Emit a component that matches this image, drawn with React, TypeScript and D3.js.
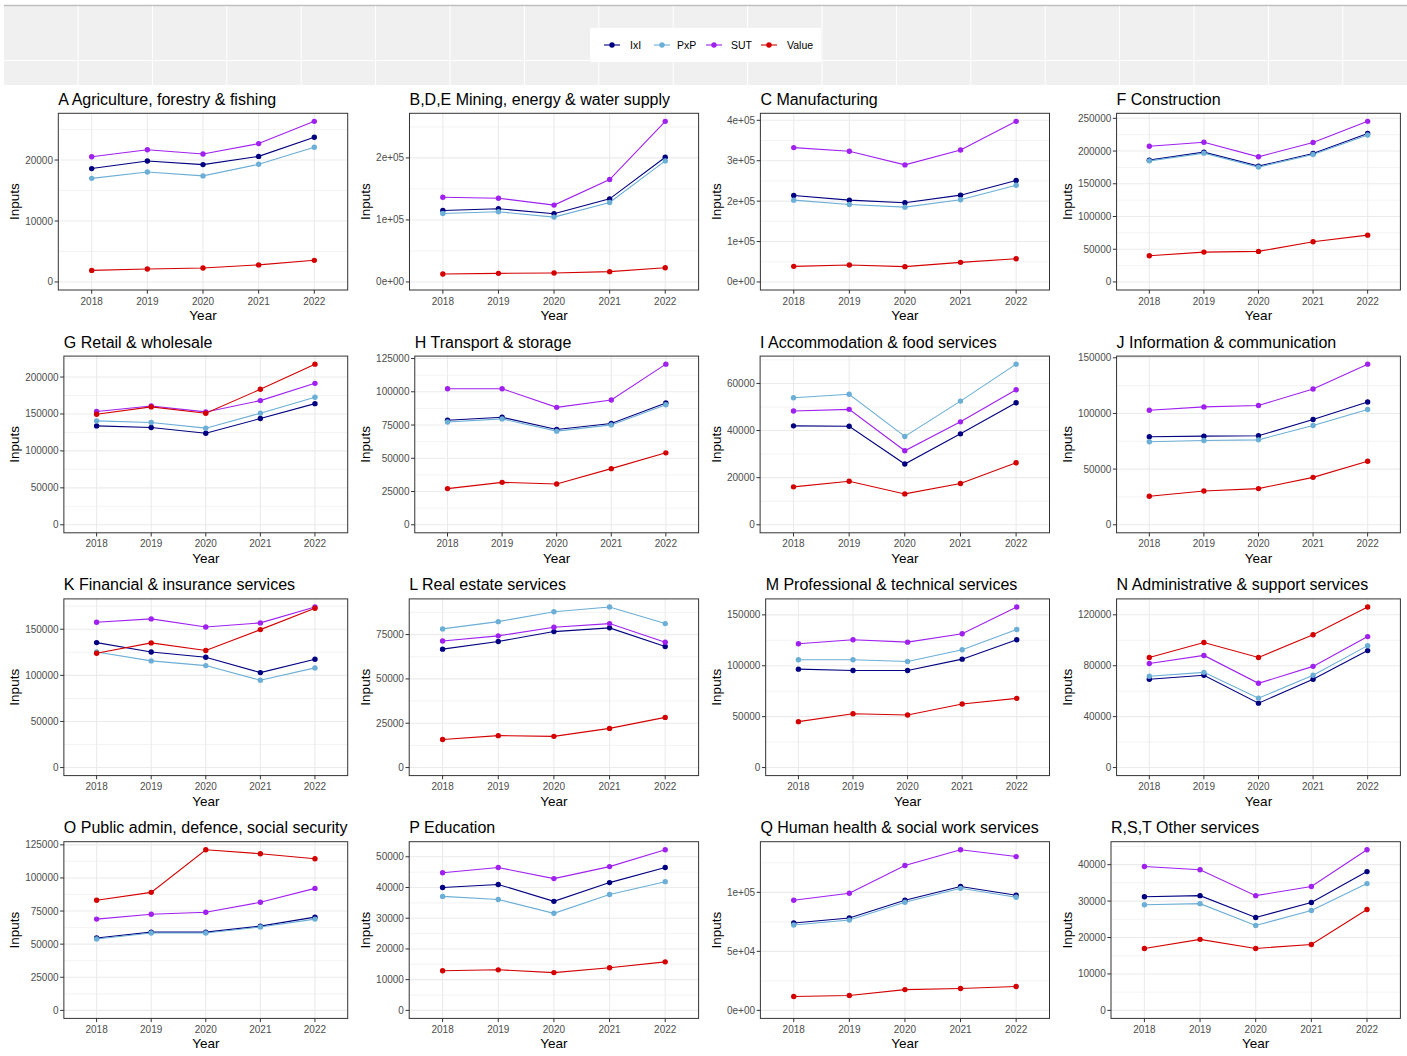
import * as d3 from 'd3';

// input-output comparison by sector, 2018-2022
const years = ['2018', '2019', '2020', '2021', '2022'];
const seriesNames = ['IxI', 'PxP', 'SUT', 'Value'];
const seriesColors = ['#000080', '#6BAED6', '#A020F0', '#D40000'];

const sectorTitles = [
  'A Agriculture, forestry & fishing',
  'B,D,E Mining, energy & water supply',
  'C Manufacturing',
  'F Construction',
  'G Retail & wholesale',
  'H Transport & storage',
  'I Accommodation & food services',
  'J Information & communication',
  'K Financial & insurance services',
  'L Real estate services',
  'M Professional & technical services',
  'N Administrative & support services',
  'O Public admin, defence, social security',
  'P Education',
  'Q Human health & social work services',
  'R,S,T Other services',
];

const ixi = [
  [18600, 19850, 19250, 20600, 23750],
  [115300, 118000, 110000, 134000, 201000],
  [214000, 202500, 195900, 214800, 251000],
  [186100, 198300, 177000, 196200, 226700],
  [133900, 131700, 124000, 143800, 164000],
  [78600, 80800, 71600, 76100, 91600],
  [42000, 41800, 25800, 38600, 51800],
  [79000, 79600, 79900, 94500, 110300],
  [135500, 125400, 119600, 103000, 117500],
  [66800, 71100, 76700, 78800, 68300],
  [96700, 95400, 95400, 106500, 125500],
  [69400, 72500, 50600, 69400, 91900],
  [54600, 59100, 59100, 63600, 70400],
  [40000, 41000, 35500, 41600, 46500],
  [74000, 78200, 93300, 105000, 97500],
  [31200, 31500, 25500, 29600, 38100],
];

const pxp = [
  [17000, 18050, 17400, 19300, 22100],
  [110500, 113100, 104600, 128200, 195200],
  [202500, 191800, 185200, 203300, 239500],
  [185000, 196800, 175500, 194700, 224600],
  [140700, 138400, 130800, 151000, 172600],
  [77300, 79600, 70400, 75100, 90300],
  [53900, 55400, 37500, 52500, 68200],
  [74600, 75700, 76300, 89200, 103500],
  [125400, 115700, 110600, 94700, 108100],
  [78200, 82300, 87900, 90600, 81200],
  [105900, 105900, 104200, 115700, 135600],
  [71700, 74800, 54500, 72500, 95800],
  [53900, 58400, 58400, 62900, 68900],
  [37100, 36100, 31600, 37700, 41900],
  [72300, 76500, 91600, 103400, 95800],
  [29000, 29300, 23300, 27400, 34800],
];

const sut = [
  [20550, 21700, 21000, 22700, 26350],
  [136700, 135100, 123900, 165100, 259000],
  [332500, 323500, 289700, 326700, 397500],
  [207400, 213500, 191200, 213000, 245400],
  [153300, 160900, 152800, 168100, 191500],
  [102300, 102300, 88300, 93800, 120800],
  [48300, 49000, 31400, 43700, 57300],
  [102900, 105900, 107100, 122000, 144300],
  [157600, 161200, 152500, 156900, 174200],
  [71400, 74300, 79100, 81200, 70700],
  [121600, 125500, 123200, 131400, 157800],
  [81800, 88100, 66200, 79500, 102900],
  [68900, 72600, 74100, 81600, 92100],
  [44800, 46500, 42900, 46800, 52300],
  [93300, 99200, 122700, 136100, 130300],
  [39500, 38600, 31500, 34000, 44100],
];

const value = [
  [1900, 2130, 2300, 2800, 3550],
  [12900, 13900, 14500, 16600, 23000],
  [38700, 42000, 37900, 48600, 57600],
  [40100, 45600, 46700, 61400, 71500],
  [149700, 159600, 151000, 183400, 217500],
  [27200, 31900, 30700, 42200, 54100],
  [16100, 18500, 13100, 17500, 26300],
  [25600, 30400, 32500, 42600, 57000],
  [124000, 135200, 126900, 149600, 172800],
  [15800, 18000, 17600, 22100, 28300],
  [45100, 52900, 51600, 62400, 68000],
  [86500, 98200, 86500, 104400, 126200],
  [83100, 89100, 121300, 118300, 114500],
  [12900, 13200, 12300, 13900, 15800],
  [11800, 12600, 17600, 18500, 20200],
  [17000, 19500, 17000, 18100, 27700],
];

const yBreaks = [
  [0, 10000, 20000],
  [0, 100000, 200000],
  [0, 100000, 200000, 300000, 400000],
  [0, 50000, 100000, 150000, 200000, 250000],
  [0, 50000, 100000, 150000, 200000],
  [0, 25000, 50000, 75000, 100000, 125000],
  [0, 20000, 40000, 60000],
  [0, 50000, 100000, 150000],
  [0, 50000, 100000, 150000],
  [0, 25000, 50000, 75000],
  [0, 50000, 100000, 150000],
  [0, 40000, 80000, 120000],
  [0, 25000, 50000, 75000, 100000, 125000],
  [0, 10000, 20000, 30000, 40000, 50000],
  [0, 50000, 100000],
  [0, 10000, 20000, 30000, 40000],
];

const yLabels = [
  ['0', '10000', '20000'],
  ['0e+00', '1e+05', '2e+05'],
  ['0e+00', '1e+05', '2e+05', '3e+05', '4e+05'],
  ['0', '50000', '100000', '150000', '200000', '250000'],
  ['0', '50000', '100000', '150000', '200000'],
  ['0', '25000', '50000', '75000', '100000', '125000'],
  ['0', '20000', '40000', '60000'],
  ['0', '50000', '100000', '150000'],
  ['0', '50000', '100000', '150000'],
  ['0', '25000', '50000', '75000'],
  ['0', '50000', '100000', '150000'],
  ['0', '40000', '80000', '120000'],
  ['0', '25000', '50000', '75000', '100000', '125000'],
  ['0', '10000', '20000', '30000', '40000', '50000'],
  ['0e+00', '5e+04', '1e+05'],
  ['0', '10000', '20000', '30000', '40000'],
];

const allSeries = [ixi, pxp, sut, value];

const WIDTH = 1407;
const HEIGHT = 1056;
const FONT = '"Liberation Sans", Arial, Helvetica, sans-serif';
const TICK_SIZE = 10;

let measureCtx: CanvasRenderingContext2D | null = null;
function textWidth(s: string, size: number) {
  if (!measureCtx) measureCtx = document.createElement('canvas').getContext('2d');
  if (!measureCtx) return s.length * size * 0.556;
  measureCtx.font = `${size}px ${FONT}`;
  return measureCtx.measureText(s).width;
}

function Panel({ idx }: { idx: number }) {
  const col = idx % 4;
  const row = Math.floor(idx / 4);
  const cellLeft = col * 350.9;
  const rowTop = 85 + row * 242.8;
  const labels = yLabels[idx];
  const labelW = d3.max(labels, (l) => textWidth(l, TICK_SIZE)) ?? 0;
  const left = cellLeft + 30.5 + labelW;
  const right = cellLeft + 347.7;
  const top = rowTop + 28.3;
  const bottom = rowTop + 205;

  const maxV = d3.max(allSeries, (s) => d3.max(s[idx])) ?? 1;
  const y = d3
    .scaleLinear()
    .domain([-0.05 * maxV, maxV * 1.05])
    .range([bottom, top]);
  const x = d3.scalePoint<string>().domain(years).range([left, right]).padding(0.6);

  const breaks = yBreaks[idx];
  const step = breaks[1] - breaks[0];
  const [d0, d1] = y.domain();
  const minor = [breaks[0] - step / 2, ...breaks.map((b) => b + step / 2)].filter(
    (m) => m >= d0 && m <= d1
  );

  const line = d3
    .line<number>()
    .x((_, i) => x(years[i]) as number)
    .y((d) => y(d));

  return (
    <g>
      <rect x={left} y={top} width={right - left} height={bottom - top} fill="#fff" />
      {minor.map((m) => (
        <line key={'mn' + m} x1={left} x2={right} y1={y(m)} y2={y(m)} stroke="#EBEBEB" strokeWidth={0.6} />
      ))}
      {breaks.map((b) => (
        <line key={'mj' + b} x1={left} x2={right} y1={y(b)} y2={y(b)} stroke="#EBEBEB" strokeWidth={1.1} />
      ))}
      {years.map((yr) => (
        <line key={'vx' + yr} x1={x(yr)} x2={x(yr)} y1={top} y2={bottom} stroke="#EBEBEB" strokeWidth={1.1} />
      ))}
      {allSeries.map((s, si) => (
        <path key={'l' + si} d={line(s[idx]) ?? ''} fill="none" stroke={seriesColors[si]} strokeWidth={1.1} />
      ))}
      {allSeries.map((s, si) =>
        s[idx].map((v, i) => (
          <circle key={'p' + si + '-' + i} cx={x(years[i])} cy={y(v)} r={2.7} fill={seriesColors[si]} />
        ))
      )}
      <rect x={left} y={top} width={right - left} height={bottom - top} fill="none" stroke="#333333" strokeWidth={1} />
      {breaks.map((b, i) => (
        <g key={'yt' + b}>
          <line x1={left - 3.7} x2={left} y1={y(b)} y2={y(b)} stroke="#333333" strokeWidth={1} />
          <text x={left - 5.3} y={y(b)} dy="0.35em" textAnchor="end" fontSize={TICK_SIZE} fill="#4D4D4D">
            {labels[i]}
          </text>
        </g>
      ))}
      {years.map((yr) => (
        <g key={'xt' + yr}>
          <line x1={x(yr)} x2={x(yr)} y1={bottom} y2={bottom + 3.7} stroke="#333333" strokeWidth={1} />
          <text x={x(yr)} y={bottom + 14.6} textAnchor="middle" fontSize={TICK_SIZE} fill="#4D4D4D">
            {yr}
          </text>
        </g>
      ))}
      <text x={left} y={top - 8.5} fontSize={16} fill="#000">
        {sectorTitles[idx]}
      </text>
      <text x={(left + right) / 2} y={bottom + 30} textAnchor="middle" fontSize={13.5} fill="#000">
        Year
      </text>
      <text
        transform={`translate(${cellLeft + 19},${(top + bottom) / 2}) rotate(-90)`}
        textAnchor="middle"
        fontSize={13.5}
        fill="#000"
      >
        Inputs
      </text>
    </g>
  );
}

function Legend() {
  const gridX = d3.range(78, WIDTH, 74.4);
  const keyX = [612, 662, 714, 769];
  const labelX = [630, 677, 731, 787];
  return (
    <g>
      <rect x={4} y={5} width={WIDTH - 4} height={80} fill="#F0F0F0" />
      <line x1={4} x2={WIDTH} y1={5.5} y2={5.5} stroke="#BEBEBE" strokeWidth={1.5} />
      {gridX.map((gx) => (
        <line key={gx} x1={gx} x2={gx} y1={6} y2={85} stroke="#fff" strokeWidth={1} />
      ))}
      <line x1={4} x2={WIDTH} y1={60.5} y2={60.5} stroke="#fff" strokeWidth={1} />
      <rect x={590} y={28} width={231} height={34} fill="#fff" />
      {seriesNames.map((n, i) => (
        <g key={n}>
          <line x1={keyX[i] - 8} x2={keyX[i] + 8} y1={45} y2={45} stroke={seriesColors[i]} strokeWidth={1.1} />
          <circle cx={keyX[i]} cy={45} r={2.7} fill={seriesColors[i]} />
          <text x={labelX[i]} y={45} dy="0.35em" fontSize={10.5} fill="#000">
            {n}
          </text>
        </g>
      ))}
    </g>
  );
}

export default function App() {
  return (
    <svg
      width={WIDTH}
      height={HEIGHT}
      style={{ position: 'absolute', left: 0, top: 0, background: '#fff', fontFamily: FONT }}
    >
      <rect width={WIDTH} height={HEIGHT} fill="#fff" />
      <Legend />
      {sectorTitles.map((_, i) => (
        <Panel key={i} idx={i} />
      ))}
    </svg>
  );
}
